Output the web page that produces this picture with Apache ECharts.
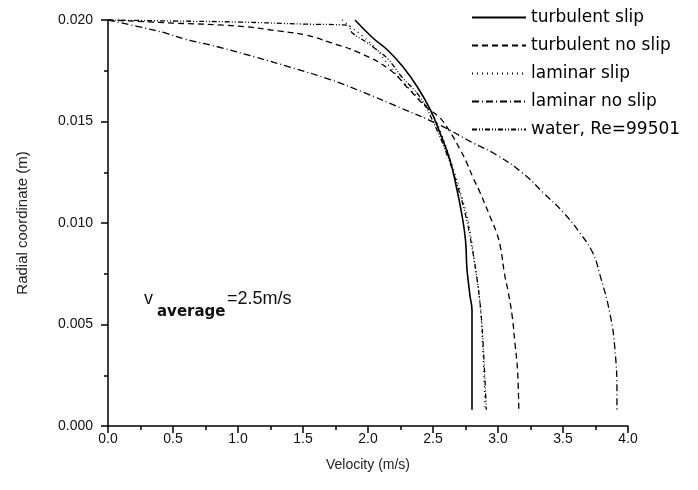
<!DOCTYPE html>
<html>
<head>
<meta charset="utf-8">
<script src="https://cdn.jsdelivr.net/npm/echarts@6/dist/echarts.min.js"></script>
<style>
  html, body { margin: 0; padding: 0; background: #fff; }
  #chart { width: 698px; height: 490px; }
</style>
</head>
<body>
<div id="chart"></div>
<script>
// Velocity profiles across the pipe radius (velocity in m/s, radius in m)
const seriesNames = ['turbulent slip', 'turbulent no slip', 'laminar slip', 'laminar no slip', 'water, Re=99501'];

const turbSlipV = [1.90, 2.04, 2.15, 2.27, 2.38, 2.48, 2.55, 2.63, 2.68, 2.72, 2.75, 2.76, 2.77, 2.785, 2.80, 2.80];
const turbSlipR = [0.0200, 0.0191, 0.01852, 0.01768, 0.0167, 0.01557, 0.0145, 0.0131, 0.01177, 0.01049, 0.00916, 0.00783, 0.0072, 0.0064, 0.0057, 0.0008];

const turbNoSlipV = [0, 0.5, 1.0, 1.31, 1.52, 1.72, 1.94, 2.17, 2.32, 2.45, 2.55, 2.63, 2.71, 2.76, 2.81, 2.86, 2.94, 2.99, 3.02, 3.05, 3.08, 3.11, 3.13, 3.15, 3.16];
const turbNoSlipR = [0.0200, 0.01985, 0.0197, 0.01946, 0.01926, 0.01887, 0.01837, 0.01754, 0.01655, 0.0157, 0.0152, 0.0145, 0.0136, 0.01296, 0.0122, 0.01153, 0.0103, 0.0095, 0.00877, 0.0075, 0.00655, 0.00537, 0.00409, 0.00276, 0.0008];

const lamSlipV = [1.80, 1.86, 1.96, 2.07, 2.17, 2.27, 2.38, 2.48, 2.57, 2.65, 2.73, 2.78, 2.82, 2.86, 2.885, 2.90];
const lamSlipR = [0.0200, 0.0197, 0.0192, 0.01852, 0.01768, 0.01695, 0.0162, 0.0155, 0.0143, 0.0128, 0.0111, 0.0098, 0.0080, 0.0061, 0.0036, 0.0008];

const lamNoSlipV = [0, 0.285, 0.44, 0.59, 0.85, 1.13, 1.42, 1.72, 1.96, 2.25, 2.55, 2.81, 2.99, 3.19, 3.35, 3.50, 3.63, 3.73, 3.78, 3.86, 3.90, 3.915, 3.915];
const lamNoSlipR = [0.0200, 0.0196, 0.01936, 0.01906, 0.01867, 0.01818, 0.01764, 0.01704, 0.01645, 0.01567, 0.01483, 0.01394, 0.01335, 0.01246, 0.01148, 0.01054, 0.00951, 0.00852, 0.00754, 0.00557, 0.00374, 0.0015, 0.0008];

const waterV = [0, 0.5, 1.0, 1.5, 1.84, 1.88, 1.99, 2.07, 2.15, 2.26, 2.4, 2.5, 2.6, 2.68, 2.75, 2.8, 2.84, 2.87, 2.89, 2.91];
const waterR = [0.0200, 0.01995, 0.0199, 0.0198, 0.01975, 0.01936, 0.0189, 0.01852, 0.0181, 0.0172, 0.0162, 0.0150, 0.0135, 0.0120, 0.0104, 0.0088, 0.0072, 0.0055, 0.0035, 0.0008];

const velocityAxis = { min: 0, max: 4, interval: 0.5 };
const radiusAxis = { min: 0, max: 0.02, interval: 0.005 };

const dashStyles = ['solid', [6, 4], [1, 4], [7, 3, 1, 3], [5, 2, 1, 2, 1, 2]];
const curves = [
  [turbSlipV, turbSlipR],
  [turbNoSlipV, turbNoSlipR],
  [lamSlipV, lamSlipR],
  [lamNoSlipV, lamNoSlipR],
  [waterV, waterR]
];

function pairs(v, r) { return v.map((x, i) => [x, r[i]]); }

const chart = echarts.init(document.getElementById('chart'), null, { renderer: 'canvas' });
const black = '#000';
const axisFont = { color: '#111', fontFamily: 'Liberation Sans, Arial, sans-serif', fontSize: 14 };

chart.setOption({
  backgroundColor: '#fff',
  animation: false,
  grid: { left: 108, right: 70, top: 20, bottom: 64, containLabel: false },
  legend: {
    orient: 'vertical',
    left: 466,
    top: 4,
    itemWidth: 54,
    itemHeight: 14,
    itemGap: 11,
    data: seriesNames,
    itemStyle: { opacity: 0 },
    textStyle: { color: '#000', fontFamily: 'DejaVu Sans, sans-serif', fontSize: 17 }
  },
  xAxis: {
    type: 'value',
    min: velocityAxis.min, max: velocityAxis.max, interval: velocityAxis.interval,
    name: 'Velocity (m/s)', nameLocation: 'middle', nameGap: 32,
    nameTextStyle: { color: '#222', fontFamily: 'Liberation Sans, Arial, sans-serif', fontSize: 14 },
    axisLine: { show: true, onZero: false, lineStyle: { color: black, width: 1.5 } },
    axisTick: { show: true, inside: false, length: 7, lineStyle: { color: black, width: 1.5 } },
    minorTick: { show: true, splitNumber: 2, length: 4, lineStyle: { color: black, width: 1.5 } },
    splitLine: { show: false },
    axisLabel: Object.assign({ margin: 6, formatter: v => v.toFixed(1) }, axisFont)
  },
  yAxis: {
    type: 'value',
    min: radiusAxis.min, max: radiusAxis.max, interval: radiusAxis.interval,
    name: 'Radial coordinate (m)', nameLocation: 'middle', nameGap: 78,
    nameTextStyle: { color: '#222', fontFamily: 'Liberation Sans, Arial, sans-serif', fontSize: 15 },
    axisLine: { show: true, onZero: false, lineStyle: { color: black, width: 1.5 } },
    axisTick: { show: true, inside: false, length: 7, lineStyle: { color: black, width: 1.5 } },
    minorTick: { show: true, splitNumber: 2, length: 4, lineStyle: { color: black, width: 1.5 } },
    splitLine: { show: false },
    axisLabel: Object.assign({ margin: 15, formatter: v => v.toFixed(3) }, axisFont)
  },
  series: curves.map((c, i) => ({
    name: seriesNames[i],
    type: 'line',
    data: pairs(c[0], c[1]),
    showSymbol: false,
    symbol: 'none',
    smooth: 0.45,
    clip: false,
    color: black,
    lineStyle: { color: black, width: i === 0 ? 1.6 : 1.3, type: dashStyles[i] },
    itemStyle: { color: black }
  })),
  graphic: [
    { type: 'text', left: 144, top: 290, style: { text: 'v', fill: '#111', font: '18px Liberation Sans, Arial, sans-serif' } },
    { type: 'text', left: 157, top: 305, style: { text: 'average', fill: '#111', font: 'bold 15px DejaVu Sans, sans-serif' } },
    { type: 'text', left: 227, top: 290, style: { text: '=2.5m/s', fill: '#111', font: '18px Liberation Sans, Arial, sans-serif' } }
  ]
});
</script>
</body>
</html>
